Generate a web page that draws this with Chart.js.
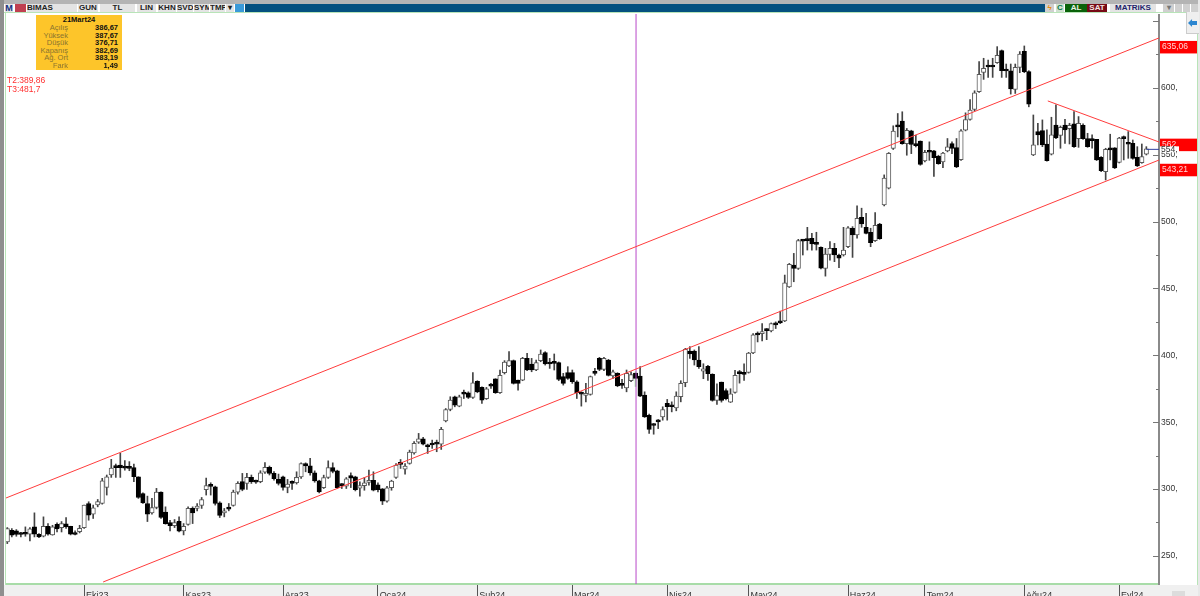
<!DOCTYPE html>
<html>
<head>
<meta charset="utf-8">
<title>BIMAS</title>
<script src="https://cdn.jsdelivr.net/npm/chart.js@4"></script>
<style>
html, body { margin: 0; padding: 0; width: 1200px; height: 596px; overflow: hidden; background: #fff; }
body { position: relative; font-family: "Liberation Sans", sans-serif; }
.abs { position: absolute; }
#toolbar span { position: absolute; top: 4px; height: 8px; line-height: 8px; font-size: 8px; font-weight: bold; text-align: center; background: #e4e4e4; color: #222; overflow: hidden; }
#info { left: 36px; top: 15px; width: 86px; height: 55px; background: #fdc52a; font-family: "Liberation Sans", sans-serif; font-size: 7.5px; }
#info div { position: absolute; left: 0; width: 82px; height: 8px; line-height: 8px; }
#info .l { position: absolute; right: 50px; color: #8a7430; }
#info .v { position: absolute; right: 0; color: #111; font-weight: bold; }
</style>
</head>
<body>
<!-- frame around the plot -->
<div class="abs" style="left:0;top:0;width:1200px;height:4px;background:#b4b4b4"></div>
<div class="abs" style="left:0;top:0;width:4px;height:596px;background:#8f8f8f"></div>
<div class="abs" style="left:4px;top:585px;width:1196px;height:11px;background:#f0f0f0"></div>
<div class="abs" style="left:1198px;top:0;width:2px;height:596px;background:#e8e8e8"></div>
<div class="abs" style="left:4px;top:12px;width:1194px;height:1px;background:#b8e4b8"></div>
<div class="abs" style="left:5px;top:12px;width:1px;height:573px;background:#b8e4b8"></div>
<div class="abs" style="left:1197px;top:12px;width:1px;height:573px;background:#b8e4b8"></div>

<div id="toolbar">
	<span style="left:5px;width:8px;color:#123080;font-size:9px">M</span>
	<span style="left:15px;width:11px;background:#c04050"></span>
	<span style="left:27px;width:50px;text-align:left">BIMAS</span>
	<span style="left:78px;width:20px">GUN</span>
	<span style="left:100px;width:35px">TL</span>
	<span style="left:137px;width:19px">LIN</span>
	<span style="left:158px;width:18px">KHN</span>
	<span style="left:177px;width:16px">SVD</span>
	<span style="left:194px;width:15px">SYM</span>
	<span style="left:210px;width:15px">TMP</span>
	<span style="left:226px;width:8px">▾</span>
	<span style="left:235px;width:9px;background:#3a9ad9"></span>
	<span style="left:245px;width:800px;background:#04507f"></span>
	<span style="left:1045px;width:9px;color:#e88a10;background:#d0d0d0">ϟ</span>
	<span style="left:1056px;width:8px;color:#0a7a4a;background:#d0e0d0">C</span>
	<span style="left:1065px;width:22px;background:#0a620a;color:#e8f0e8">AL</span>
	<span style="left:1087px;width:20px;background:#760a16;color:#f4e4e4">SAT</span>
	<span style="left:1110px;width:46px;color:#22226a">MATRiKS</span>
	<span style="left:1163px;width:11px;background:#d0d0d0;color:#777">▾</span>
	<span style="left:1175px;width:7px;background:#d0d0d0"></span>
	<span style="left:1183px;width:7px;background:#d0d0d0"></span>
	<span style="left:1191px;width:7px;background:#d0d0d0"></span>
</div>

<div class="abs" style="left:6px;top:14px;width:1191px;height:590px">
	<canvas id="myChart" width="1191" height="590"></canvas>
</div>

<!-- date / prices box -->
<div id="info" class="abs"></div>
<div class="abs" style="left:7px;top:76px;color:#ff3030;font:8.5px/9px 'Liberation Sans',sans-serif">T2:389,86<br>T3:481,7</div>

<!-- side arrow buttons -->
<div class="abs" style="left:1186px;top:12px;width:12px;height:21px;background:#efefef;border-left:1px solid #ccc;border-bottom:1px solid #ccc"></div>
<div class="abs" style="left:1188px;top:19px;width:9px;height:8px;background:#2c86d0;clip-path:polygon(0 50%,45% 0,45% 25%,100% 25%,100% 75%,45% 75%,45% 100%)"></div>
<div class="abs" style="left:1172px;top:591px;width:13px;height:5px;background:#dcdcdc"></div>

<script>
// daily candles
const opens = [
	260.5,269.2,268.7,266.2,267.2,266.2,271.7,266.2,264.7,272.2,
	265.7,273.7,271.2,273.9,272.2,267.2,268.2,271.2,289.2,281.2,
	288.2,289.2,301.2,310.5,316.7,318,316.7,316.7,316,309.2,
	296.7,289.2,282.2,286.2,297.7,282.7,274.9,272.7,275.9,268.7,
	273.5,285.5,285.5,287.7,299.5,302.5,301.7,289.7,282.2,285.5,
	287.7,297.7,305.5,304.2,308.7,305.5,305.5,312.7,316.2,311.7,
	307.2,309.2,301.2,304.7,304.7,309.1,319.1,317.3,312.1,306.1,
	301.1,308.6,316.1,313.6,304.1,302.1,310.1,309.1,300.6,302.6,
	304.9,306.6,303.1,300.1,290.9,301.1,308.6,319.1,314.9,319.1,
	327.1,335.1,337.6,333.1,333.9,334.1,333.6,351,359.5,369,
	362,372,372,368.5,380.5,376,367.5,378,382.5,372,
	387,392,396,381.5,381.5,397.7,393.5,389,396,402,
	394.5,394.5,394.5,384,387,387,380.2,372,370,370.7,
	387,397.7,389.5,396.5,384.5,386.5,378,375.7,381,386.67,
	384.5,370.2,355.2,348,350.7,354,364,362,360.7,369,
	379.5,403.2,403.2,396.5,388.2,391.7,385.7,366.2,380,373.7,
	365,372.2,387.9,386.2,387.2,401.7,416.2,416.2,419.4,418.2,
	423.2,424.7,425.7,451.2,467.5,465,485.9,487,487.5,483.4,
	480.7,465,475.4,480,475,475,481.2,495,490,503.2,
	495.7,492,485.7,498.2,512.4,524.9,554.6,571.8,575.1,558.3,
	567.8,557.6,560.1,545.3,552.3,552.8,548.8,544.6,552.8,558.3,
	555.3,546.3,568.3,576.3,583.8,597.1,611.6,616.3,616.3,618.8,
	627.8,613.3,612.8,598.8,615.3,627.3,612.1,549.8,567.3,568,
	558,550.3,572.2,564.5,572.2,569.5,573,562,572,562,
	561,561.5,548,537.4,554.6,555.1,544.3,563,558.5,558.5,
	548,544.1,550.3,
];
const highs = [
	271.2,270.5,269.7,267.7,271.7,271.2,282.2,266.7,279.2,274.2,
	272.9,274.7,275.7,278.7,272.2,268.7,272.9,288,290.5,288,
	292.2,308,310.5,322.2,318.7,326.7,321.2,320.5,318.7,309.2,
	297.2,294.7,293,300.5,298,286.7,276.7,277.2,279.2,274.2,
	286.7,286.7,289.2,293.7,308.2,304.7,302.2,290.5,285.5,289.2,
	299.2,305.5,311.7,311.7,310.5,306.7,313.7,319.7,317.2,313,
	311.2,309.7,307.2,306.2,312.9,319.6,319.6,322.9,313.6,306.6,
	310.4,321.1,319.6,314.1,304.1,308.6,312.1,309.6,305.4,308.6,
	314.1,312.9,304.6,300.4,302.1,306.6,319.1,322.1,319.1,329.1,
	335.4,341.6,338.6,333.6,336.6,336.6,346.1,360.2,369,369.5,
	370.2,374,372.7,387,381,376.5,376,379,382.5,389,
	396,402.7,396.5,381.5,398.5,401.5,397.7,396.5,404,402.7,
	397.7,401,395,386.5,391.5,389,381,372.7,379,384.5,
	390.2,398.5,398.5,397,389,387,382,389,387.7,387.67,
	391.5,372.7,356,349,352,361.5,367,365.2,372.7,381,
	405.2,406.5,404,406.5,393.7,392.5,386.2,378.7,380,375,
	375,388.7,388.7,393.7,402.2,416.2,417.5,423.7,420,424.2,
	425,433,460,468.7,476.2,486.7,486.7,495.7,491.2,492,
	481.2,480,485,483.7,475.7,495.7,496.2,496.2,511.7,510,
	506.2,495,506.7,498.7,534.9,551.6,571.6,580.8,582.1,569.6,
	568.3,564.6,560.3,553.3,559.6,553.3,549.6,551.8,562.1,559.6,
	562.1,568.8,581.3,591.3,597.8,619.6,622.1,620.8,622.1,630.8,
	628.3,617.8,617.8,617.8,627.1,631.3,612.8,579.7,573.5,576,
	568.5,578,587.2,571.5,576.5,573.5,582.2,578.5,573,566,
	564.8,561.5,548.6,554.8,565.3,555.3,563,564,567.3,561,
	556,558,556,
];
const lows = [
	259.2,264.2,264.7,264.2,264.7,261.2,264.2,263.7,264.2,265.5,
	265.5,267.9,267.9,270.5,265.7,265.7,267.2,270.5,276.7,278,
	286.7,288.7,295.5,308.7,308.7,308.7,314.2,313.7,305.5,293,
	289.2,275.7,281.2,285.2,278,273.7,268.7,271.2,268,265.7,
	273,274.2,283.7,285.5,295.5,295.5,288,278.7,279.2,283.7,
	287.2,296.2,298.7,299.7,304.2,304.2,304.7,311.7,310.5,306.7,
	303,299.2,297.2,299.7,303.7,307.9,312.9,310.4,305.1,297.1,
	300.4,307.9,312.1,300.4,300.4,300.4,301.1,298.6,294.6,299.1,
	302.9,298.6,297.9,288.4,290.1,299.1,307.9,315.4,311.1,318.6,
	326.1,334.1,332.9,326.6,330.4,327.9,329.6,350.2,358.5,361.5,
	361.5,367.7,367.7,367.7,372,364,367,375.2,371.5,371.5,
	386,391.5,378.5,374,381,388.5,387.7,388.5,395.2,392.7,
	390.2,389,381,377.7,382,379,367.7,362,365.2,370.2,
	385.2,388.5,388.5,384.5,382.7,376.5,375.2,372.7,380.2,376.71,
	369,353.5,341.5,341,345.2,351.5,351.5,357.7,358.5,365.2,
	376.5,397.7,392.7,390.2,382.5,381.2,365.7,363.2,365,366.7,
	364.7,371.7,379.2,381.2,386.7,401.2,410,410.7,411.7,417.5,
	420,423.7,425.2,450.7,455,464.2,475,478.7,478.7,478.7,
	464.5,459.2,471.2,470,465.5,474.2,480.5,473.2,487.5,495.7,
	490.7,481.2,485.2,486.7,511.7,524.4,553.9,563.3,557.8,549.6,
	550.8,555.8,542.1,544.6,545.8,533.8,542.8,540.3,552.1,550.8,
	540.3,545.8,567.8,575.8,582.8,596.6,606.3,607.8,607.8,618.3,
	607.8,607.8,595.3,595.8,611.3,611.3,585.8,549.3,557.3,556,
	545.1,549.8,562,554.8,558.5,558,555.5,555.5,561.5,555.5,
	554.8,545.6,537.4,531.1,546.1,539.6,543.8,546.1,547.3,546.6,
	541.1,543.6,549.8,
];
const closes = [
	270.4,265.5,266,266,266.2,270.2,266.2,264.2,272.2,266.2,
	271.7,270.2,274.2,271.7,266.2,266,270.7,288,280.5,286,
	290.7,306.2,309.2,315.7,316,316,315.7,315.5,309.2,293.7,
	289.7,281.2,286.2,297.7,278.7,274.2,272.7,274.9,268.5,272.2,
	285.5,282.2,287.2,292.2,302.5,302,289.2,280.2,283.7,285,
	297.7,304.2,299.7,308.7,305.5,305.2,312.2,316.2,311.7,307.7,
	304.2,301.2,303.7,304.2,308.7,319.1,317.3,312.1,306.1,297.9,
	308.6,316.1,313.1,301.1,302.6,307.6,308.1,299.6,302.6,304.6,
	306.6,299.1,299.6,290.9,300.9,305.9,317.9,318.4,317.1,327.6,
	334.1,337.6,333.6,331.6,332.9,333.6,344.6,359.5,366.5,362.7,
	369,371,368.5,379.5,372.7,366.5,375,377,372,385,
	395,396,379,379,397.7,389,389,394.5,401,393.5,
	393.5,394,382,379,382.7,380.2,372,371,371,384,
	386.5,389.5,397.7,385,387.7,377.2,377.5,386.5,385.5,382.69,
	369.5,354,344.5,347.5,350.2,359.5,361.5,361.5,369.5,379,
	404.5,401,396.5,391.5,389.9,386.2,366.2,369.9,366.2,367.5,
	371.2,385,386.2,385.7,401.7,415.4,415.2,417.7,418.4,423.7,
	422.7,424.2,454.2,468,465,485.7,485.4,485.7,483.2,482.9,
	465.2,475.7,480,475,472.7,478.7,495.4,490,502.5,498.2,
	491.2,484.2,497.2,487.2,532.6,551.1,567.6,570.8,558.3,568.3,
	557.6,556.8,542.8,551.8,551.8,547.8,543.3,551.3,555.8,554.6,
	540.8,567.8,576.3,583.3,596.3,610.1,614.6,615.6,615.6,624.3,
	612.8,612.6,599.1,615.3,625.3,612.1,587.8,557.3,564.8,557.3,
	545.6,564.8,562.5,570.5,568.5,572,556,573.5,562,556,
	560.5,546,538.1,554.1,553.6,540.1,562.5,562,557.8,547.3,
	541.6,548.6,554.3,
];

// month labels and the bar each one sits on
const monthLabels = ["Eki23", "Kas23", "Ara23", "Oca24", "Şub24", "Mar24", "Nis24", "May24", "Haz24", "Tem24", "Ağu24", "Eyl24"];
const monthBars = [17, 39, 61, 82, 104, 125, 146, 164, 186, 203, 225, 246];

// drawn lines, [bar, price]
const upperChannel = [[-0.3, 293.3], [254.8, 637.3]];
const lowerChannel = [[21.2, 230.5], [254.8, 546]];
const triangleTop = [[230.2, 590.2], [254.8, 559.5]];
const selectedBar = 139;
const lastClose = 554;

// price tags on the right hand side
const tagValues = [635.06, 562, 543.21];
const tagLabels = ["635,06", "562", "543,21"];

const infoLabels = ["Açılış", "Yüksek", "Düşük", "Kapanış", "Ağ. Ort", "Fark"];
const infoValues = ["386,67", "387,67", "376,71", "382,69", "383,19", "1,49"];

const toPoints = (pts) => pts.map((p) => ({ x: p[0], y: p[1] }));
const redLine = (pts) => ({
	type: "line",
	data: toPoints(pts),
	borderColor: "#ff3c3c",
	borderWidth: 1,
	pointRadius: 0,
	order: 0,
});

// small marks left of the axis line, price tags and the last close
const sidePlugin = {
	id: "side",
	afterDraw(chart) {
		const ctx = chart.ctx;
		const y = chart.scales.y;
		const right = chart.chartArea.right;
		ctx.save();
		ctx.strokeStyle = "#777";
		for (let v = 250; v <= 650; v += 25) {
			const py = Math.round(y.getPixelForValue(v)) + 0.5;
			ctx.beginPath();
			ctx.moveTo(right - (v % 50 === 0 ? 6 : 3), py);
			ctx.lineTo(right, py);
			ctx.stroke();
		}
		ctx.font = "8.5px 'Liberation Sans', sans-serif";
		ctx.textBaseline = "middle";
		tagValues.forEach((v, i) => {
			const top = y.getPixelForValue(v);
			ctx.fillStyle = "#ff0000";
			ctx.fillRect(right + 1, top, 37, 12.5);
			ctx.fillStyle = "#ffd8d8";
			ctx.fillText(tagLabels[i], right + 3, top + 6);
		});
		// last close
		const py = y.getPixelForValue(lastClose);
		ctx.strokeStyle = "#3040a0";
		ctx.beginPath();
		ctx.moveTo(chart.scales.x.getPixelForValue(252), py);
		ctx.lineTo(right, py);
		ctx.stroke();
		ctx.fillStyle = "#fff";
		ctx.fillRect(right + 1, py - 3, 19, 6);
		ctx.fillStyle = "#333";
		ctx.fillText(lastClose + ",", right + 2, py);
		ctx.restore();
	},
};

document.addEventListener("DOMContentLoaded", function () {
	const info = document.getElementById("info");
	let html = '<div style="top:1px;text-align:center;width:86px;font-weight:bold;color:#111">21Mart24</div>';
	infoLabels.forEach((l, i) => {
		html += '<div style="top:' + (9 + i * 7.5) + 'px"><span class="l">' + l + '</span><span class="v">' + infoValues[i] + "</span></div>";
	});
	info.innerHTML = html;

	const ctx = document.getElementById("myChart").getContext("2d");
	new Chart(ctx, {
		data: {
			datasets: [
				redLine(upperChannel),
				redLine(lowerChannel),
				redLine(triangleTop),
				{
					type: "line",
					data: [{ x: selectedBar + 0.1, y: 229 }, { x: selectedBar + 0.1, y: 655.2 }],
					borderColor: "#b848c8",
					borderWidth: 1,
					pointRadius: 0,
					order: 0,
				},
				{
					// candle bodies
					type: "bar",
					grouped: false,
					data: opens.map((o, i) => ({ x: i, y: [o, closes[i]] })),
					barThickness: 4.4,
					minBarLength: 2,
					borderWidth: 1,
					borderSkipped: false,
					borderColor: opens.map((o, i) => (closes[i] >= o ? "#5a5a5a" : "#000")),
					backgroundColor: opens.map((o, i) => (closes[i] >= o ? "#fff" : "#000")),
					order: 1,
				},
				{
					// wicks
					type: "bar",
					grouped: false,
					data: lows.map((l, i) => ({ x: i, y: [l, highs[i]] })),
					barThickness: 1,
					backgroundColor: lows.map((l, i) => (i === selectedBar ? "#90e090" : "#444")),
					order: 2,
				},
			],
		},
		options: {
			responsive: false,
			animation: false,
			layout: { padding: 0 },
			plugins: { legend: { display: false }, tooltip: { enabled: false } },
			scales: {
				x: {
					type: "linear",
					offset: false,
					min: -0.29,
					max: 254.8,
					afterBuildTicks(scale) {
						scale.ticks = monthBars.map((b) => ({ value: b }));
					},
					afterFit(scale) {
						scale.height = 20;
					},
					grid: { offset: false, drawOnChartArea: false, tickLength: 12, tickColor: "#555" },
					border: { color: "#a8dca8", width: 2 },
					ticks: {
						autoSkip: false,
						maxRotation: 0,
						align: "start",
						padding: -6,
						color: "#333",
						font: { family: "'Liberation Sans', sans-serif", size: 9 },
						callback: (v) => "\u2009" + monthLabels[monthBars.indexOf(v)],
					},
				},
				y: {
					position: "right",
					min: 229,
					max: 655.2,
					afterBuildTicks(scale) {
						// only round prices, not the ends of the axis
						scale.ticks = scale.ticks.filter((t) => t.value % 25 === 0);
					},
					afterFit(scale) {
						scale.width = 38;
						scale.paddingTop = 0;
						scale.paddingBottom = 0;
					},
					grid: { drawOnChartArea: false, drawTicks: false },
					border: { color: "#8a8a8a", width: 2 },
					ticks: {
						stepSize: 25,
						autoSkip: false,
						padding: 2,
						color: "#333",
						font: { family: "'Liberation Sans', sans-serif", size: 8.5 },
						callback: (v) => (v % 50 === 0 ? v + "," : ""),
					},
				},
			},
		},
		plugins: [sidePlugin],
	});
});
</script>
</body>
</html>
